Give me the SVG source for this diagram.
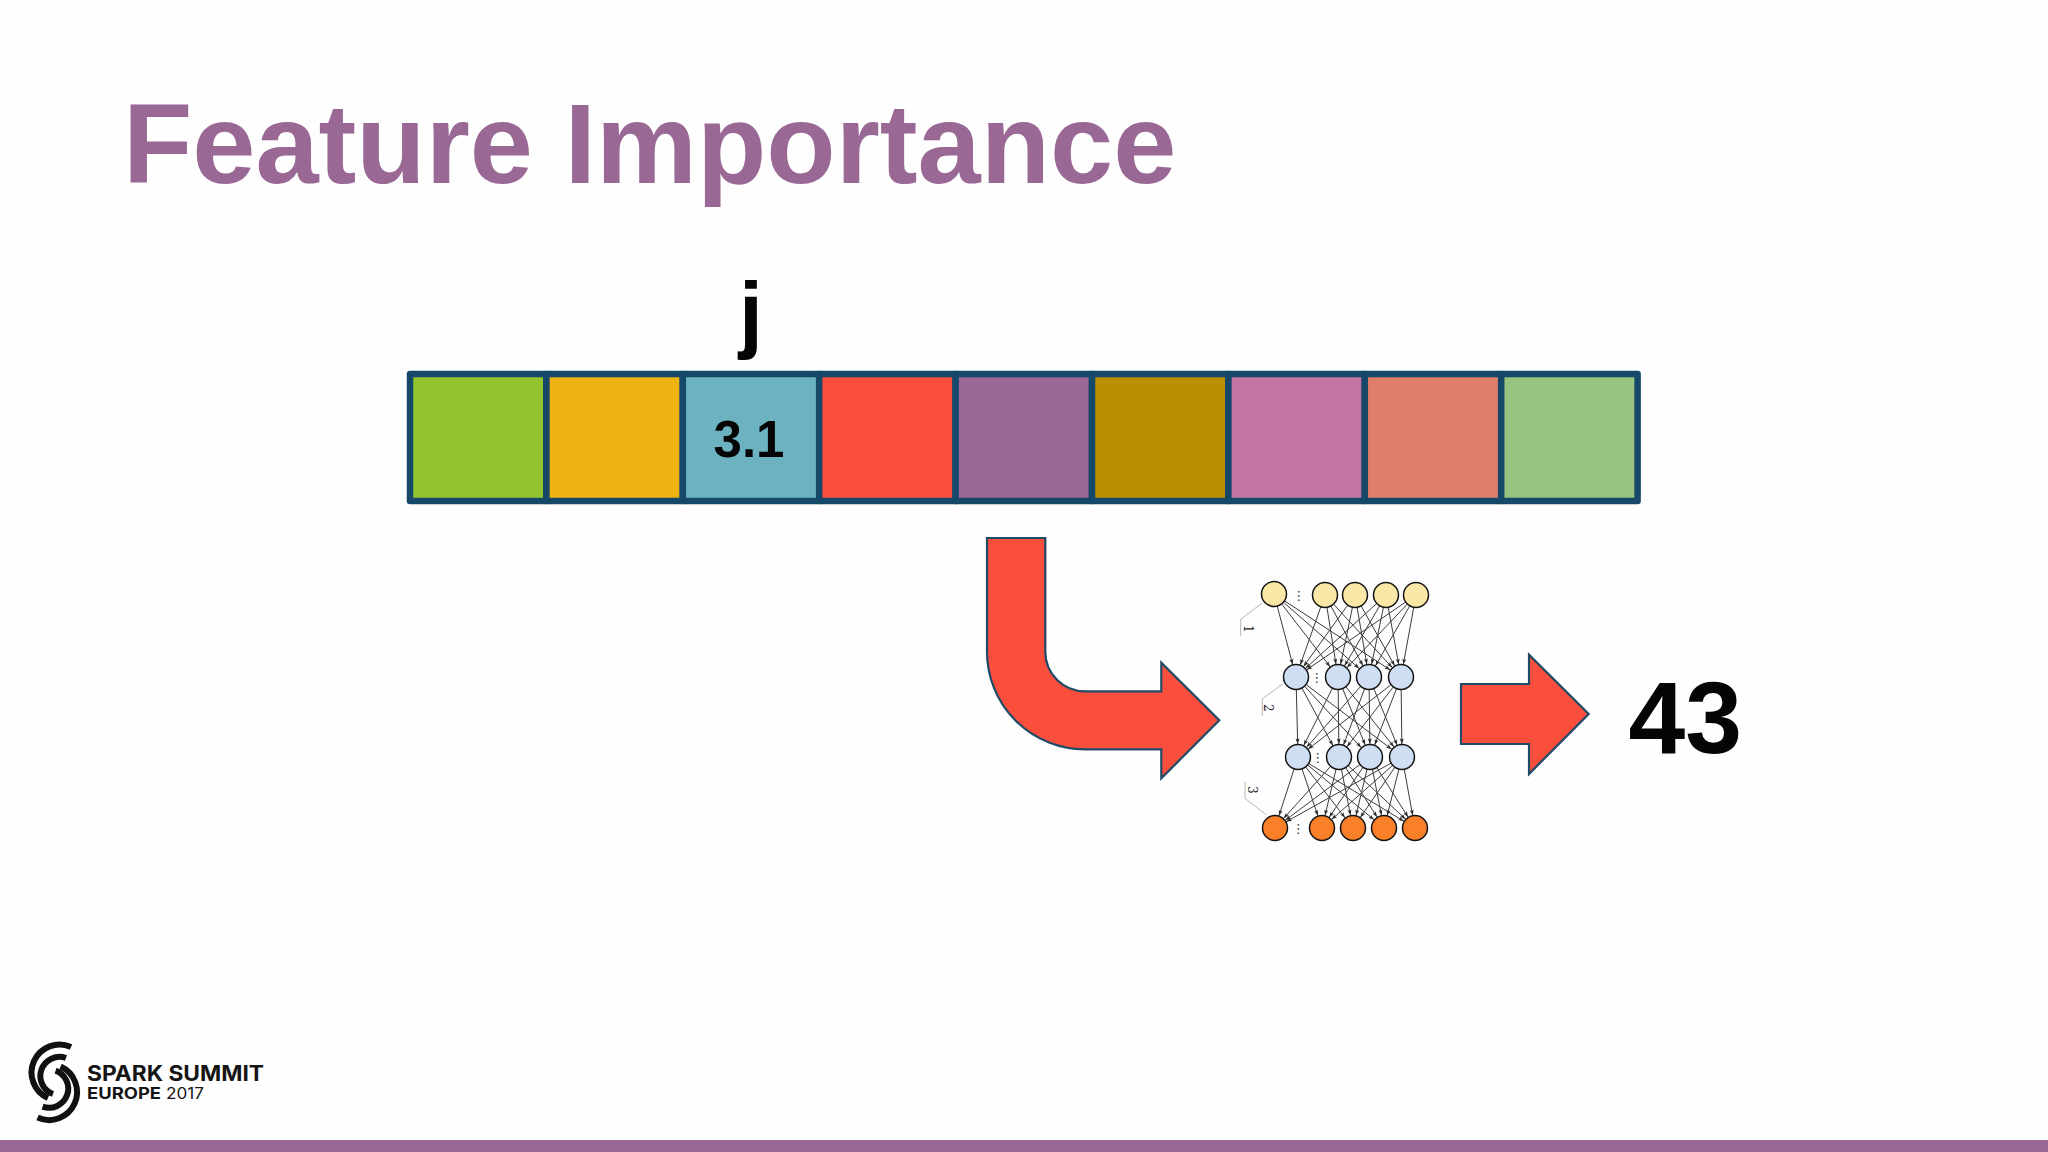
<svg xmlns="http://www.w3.org/2000/svg" width="2048" height="1152" viewBox="0 0 2048 1152">
<style>
text{font-family:"Liberation Sans",Arial,sans-serif;font-weight:700;fill:#050505}
.cell{stroke:#16486A;stroke-width:6.5;stroke-linejoin:round}
.red{fill:#FA4F3D;stroke:#1F4A68;stroke-width:2.2;stroke-linejoin:miter}
.e{stroke:#3c3c3c;stroke-width:1;fill:none;marker-end:url(#ah)}
.y,.b,.o{stroke:#141414;stroke-width:1.5}
.y{fill:#FBE8A6}.b{fill:#CFDEF3}.o{fill:#F97F28}
.br{fill:none;stroke:#b4b4b4;stroke-width:1}
.lb{font-family:"DejaVu Serif","Liberation Serif",serif;font-weight:400;font-size:12px;fill:#222}
.dots{font-family:"DejaVu Sans",sans-serif;font-weight:400;font-size:13px;fill:#333;text-anchor:middle}
.arc{fill:none;stroke:#111;stroke-width:6}
.lg{font-family:Inter,"Liberation Sans",sans-serif;fill:#151515}
</style>
<defs>
<marker id="ah" markerUnits="userSpaceOnUse" markerWidth="20" markerHeight="8" viewBox="-20 -4 20 8" refX="0" refY="0" orient="auto" overflow="visible">
<path d="M-18.5,-2 L-13,0 L-18.5,2 L-17.4,0 Z" fill="#2c2c2c"/>
</marker>
</defs>
<rect id="background" width="2048" height="1152" fill="#FEFEFE"/>
<rect id="footer-band" x="0" y="1140" width="2048" height="12" fill="#9A6895"/>
<text id="title" x="123" y="183" font-size="113.5" style="fill:#9A6895">Feature Importance</text>

<g id="feature-vector">
<rect class="cell" x="410" y="374" width="136.4" height="127" fill="#91C42E"/>
<rect class="cell" x="546.4" y="374" width="136.4" height="127" fill="#EEB212"/>
<rect class="cell" x="682.8" y="374" width="136.4" height="127" fill="#6CB2C1"/>
<rect class="cell" x="819.2" y="374" width="136.4" height="127" fill="#F94E3C"/>
<rect class="cell" x="955.6" y="374" width="136.4" height="127" fill="#9A6895"/>
<rect class="cell" x="1092" y="374" width="136.4" height="127" fill="#BC8F00"/>
<rect class="cell" x="1228.4" y="374" width="136.4" height="127" fill="#C377A2"/>
<rect class="cell" x="1364.8" y="374" width="136.4" height="127" fill="#DE7E6B"/>
<rect class="cell" x="1501.2" y="374" width="136.4" height="127" fill="#97C47F"/>
<text x="749" y="456.5" font-size="51" text-anchor="middle">3.1</text>
</g>
<text id="label-j" x="751" y="342" font-size="86" text-anchor="middle">j</text>

<g id="connectors">
<path id="bent-arrow" class="red" d="M987,538 H1045.3 V651.7 A39.6,39.6 0 0 0 1085,691.3 H1161.3 V662.7 L1219.3,720.3 L1161.3,778.3 V749.3 H1085 A98,97.6 0 0 1 987,651.7 Z"/>
<path id="output-arrow" class="red" d="M1461,684 H1529 V654.7 L1588.7,714 L1529,774 V744 H1461 Z"/>
<g id="net-edges">
<line class="e" x1="1274" y1="594" x2="1296" y2="677"/><line class="e" x1="1274" y1="594" x2="1338" y2="677"/><line class="e" x1="1274" y1="594" x2="1369" y2="677"/><line class="e" x1="1274" y1="594" x2="1401" y2="677"/>
<line class="e" x1="1325" y1="595" x2="1296" y2="677"/><line class="e" x1="1325" y1="595" x2="1338" y2="677"/><line class="e" x1="1325" y1="595" x2="1369" y2="677"/><line class="e" x1="1325" y1="595" x2="1401" y2="677"/>
<line class="e" x1="1355" y1="595" x2="1296" y2="677"/><line class="e" x1="1355" y1="595" x2="1338" y2="677"/><line class="e" x1="1355" y1="595" x2="1369" y2="677"/><line class="e" x1="1355" y1="595" x2="1401" y2="677"/>
<line class="e" x1="1386" y1="595" x2="1296" y2="677"/><line class="e" x1="1386" y1="595" x2="1338" y2="677"/><line class="e" x1="1386" y1="595" x2="1369" y2="677"/><line class="e" x1="1386" y1="595" x2="1401" y2="677"/>
<line class="e" x1="1416" y1="595" x2="1296" y2="677"/><line class="e" x1="1416" y1="595" x2="1338" y2="677"/><line class="e" x1="1416" y1="595" x2="1369" y2="677"/><line class="e" x1="1416" y1="595" x2="1401" y2="677"/>
<line class="e" x1="1296" y1="677" x2="1298" y2="757"/><line class="e" x1="1296" y1="677" x2="1339" y2="757"/><line class="e" x1="1296" y1="677" x2="1370" y2="757"/><line class="e" x1="1296" y1="677" x2="1402" y2="757"/>
<line class="e" x1="1338" y1="677" x2="1298" y2="757"/><line class="e" x1="1338" y1="677" x2="1339" y2="757"/><line class="e" x1="1338" y1="677" x2="1370" y2="757"/><line class="e" x1="1338" y1="677" x2="1402" y2="757"/>
<line class="e" x1="1369" y1="677" x2="1298" y2="757"/><line class="e" x1="1369" y1="677" x2="1339" y2="757"/><line class="e" x1="1369" y1="677" x2="1370" y2="757"/><line class="e" x1="1369" y1="677" x2="1402" y2="757"/>
<line class="e" x1="1401" y1="677" x2="1298" y2="757"/><line class="e" x1="1401" y1="677" x2="1339" y2="757"/><line class="e" x1="1401" y1="677" x2="1370" y2="757"/><line class="e" x1="1401" y1="677" x2="1402" y2="757"/>
<line class="e" x1="1298" y1="757" x2="1275" y2="828"/><line class="e" x1="1298" y1="757" x2="1322" y2="828"/><line class="e" x1="1298" y1="757" x2="1353" y2="828"/><line class="e" x1="1298" y1="757" x2="1384" y2="828"/><line class="e" x1="1298" y1="757" x2="1415" y2="828"/>
<line class="e" x1="1339" y1="757" x2="1275" y2="828"/><line class="e" x1="1339" y1="757" x2="1322" y2="828"/><line class="e" x1="1339" y1="757" x2="1353" y2="828"/><line class="e" x1="1339" y1="757" x2="1384" y2="828"/><line class="e" x1="1339" y1="757" x2="1415" y2="828"/>
<line class="e" x1="1370" y1="757" x2="1275" y2="828"/><line class="e" x1="1370" y1="757" x2="1322" y2="828"/><line class="e" x1="1370" y1="757" x2="1353" y2="828"/><line class="e" x1="1370" y1="757" x2="1384" y2="828"/><line class="e" x1="1370" y1="757" x2="1415" y2="828"/>
<line class="e" x1="1402" y1="757" x2="1275" y2="828"/><line class="e" x1="1402" y1="757" x2="1322" y2="828"/><line class="e" x1="1402" y1="757" x2="1353" y2="828"/><line class="e" x1="1402" y1="757" x2="1384" y2="828"/><line class="e" x1="1402" y1="757" x2="1415" y2="828"/>
</g>
<polyline class="br" points="1261.7,603.3 1240.7,619.3 1240.7,635.7"/>
<polyline class="br" points="1283.3,683.3 1262.3,699 1262.3,715.7"/>
<polyline class="br" points="1245,781.7 1245,798.3 1266.7,815"/>
</g>

<g id="network">
<g id="input-layer">
<circle class="y" cx="1274" cy="594" r="12.5"/><circle class="y" cx="1325" cy="595" r="12.5"/><circle class="y" cx="1355" cy="595" r="12.5"/><circle class="y" cx="1386" cy="595" r="12.5"/><circle class="y" cx="1416" cy="595" r="12.5"/>
<text class="dots" transform="translate(1298.7,600)">⋮</text>
</g>
<g id="hidden-layer-1">
<circle class="b" cx="1296" cy="677" r="12.5"/><circle class="b" cx="1338" cy="677" r="12.5"/><circle class="b" cx="1369" cy="677" r="12.5"/><circle class="b" cx="1401" cy="677" r="12.5"/>
<text class="dots" transform="translate(1316.7,682)">⋮</text>
</g>
<g id="hidden-layer-2">
<circle class="b" cx="1298" cy="757" r="12.5"/><circle class="b" cx="1339" cy="757" r="12.5"/><circle class="b" cx="1370" cy="757" r="12.5"/><circle class="b" cx="1402" cy="757" r="12.5"/>
<text class="dots" transform="translate(1317.7,762)">⋮</text>
</g>
<g id="output-layer">
<circle class="o" cx="1275" cy="828" r="12.5"/><circle class="o" cx="1322" cy="828" r="12.5"/><circle class="o" cx="1353" cy="828" r="12.5"/><circle class="o" cx="1384" cy="828" r="12.5"/><circle class="o" cx="1415" cy="828" r="12.5"/>
<text class="dots" transform="translate(1298.3,833)">⋮</text>
</g>
<text class="lb" transform="translate(1244,625) rotate(90)">1</text>
<text class="lb" transform="translate(1264,704) rotate(90)">2</text>
<text class="lb" transform="translate(1248,786) rotate(90)">3</text>
</g>
<text id="result" x="1628.5" y="753" font-size="102">43</text>

<g id="logo">
<path id="logo-a" class="arc" d="M71,1047 A27.5,27.5 0 0 0 48,1098"/>
<path id="logo-b" class="arc" d="M66,1058 A18.5,18.5 0 0 0 53,1094"/>
<path class="arc" d="M71,1047 A27.5,27.5 0 0 0 48,1098" transform="rotate(180 54.3 1082.3)"/>
<path class="arc" d="M66,1058 A18.5,18.5 0 0 0 53,1094" transform="rotate(180 54.3 1082.3)"/>
<text class="lg" x="87" y="1081" font-size="21" textLength="177" lengthAdjust="spacingAndGlyphs">SPARK SUMMIT</text>
<text class="lg" x="87" y="1099" font-size="15.5" textLength="74" lengthAdjust="spacingAndGlyphs">EUROPE</text>
<text class="lg" x="166" y="1099" font-size="15.5" textLength="38" lengthAdjust="spacingAndGlyphs" style="font-weight:400">2017</text>
</g>
</svg>
